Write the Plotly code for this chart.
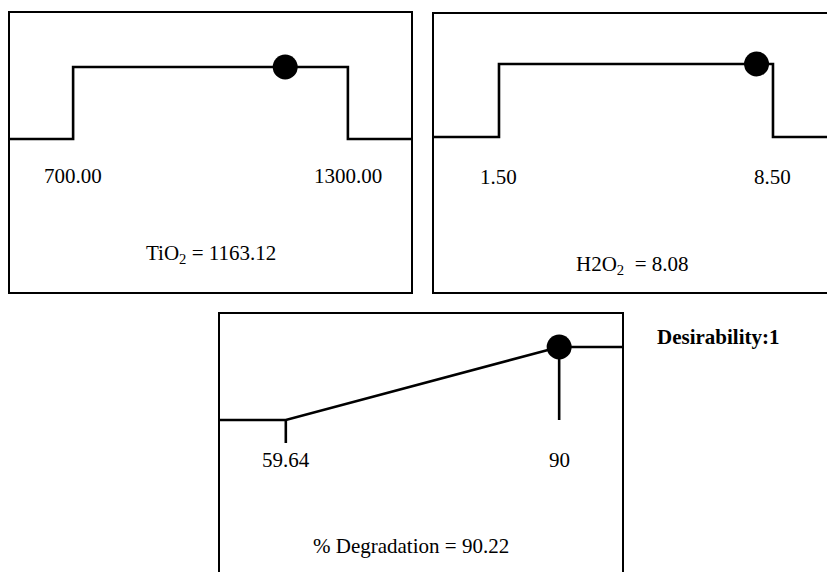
import plotly.graph_objects as go

# ---- data ----
tio2_limits = [700.00, 1300.00]
tio2_labels = ["700.00", "1300.00"]
tio2_opt = 1163.12

h2o2_limits = [1.50, 8.50]
h2o2_labels = ["1.50", "8.50"]
h2o2_opt = 8.08

deg_limits = [59.64, 90]
deg_labels = ["59.64", "90"]
deg_opt = 90.22

desirability = 1
d_low, d_high = 0, 1

W, H = 827, 572
FONT = dict(family="Liberation Serif, Times New Roman, serif", size=21, color="black")
LW = 2.6

def px(x):
    return x / W

def py(y):
    return 1 - y / H

fig = go.Figure()

# panel ranges (axis scale)
r1 = [560, 1440]
r2 = [-0.186, 9.88]
r3 = [52.22, 97.09]

# Panel 1 : TiO2
fig.add_trace(go.Scatter(
    x=[r1[0], tio2_limits[0], tio2_limits[0], tio2_limits[1], tio2_limits[1], r1[1]],
    y=[d_low, d_low, d_high, d_high, d_low, d_low],
    mode="lines", line=dict(color="black", width=LW), xaxis="x", yaxis="y",
    hoverinfo="skip", showlegend=False))
fig.add_trace(go.Scatter(x=[tio2_opt], y=[desirability], mode="markers",
    marker=dict(color="black", size=25), xaxis="x", yaxis="y", showlegend=False))

# Panel 2 : H2O2
fig.add_trace(go.Scatter(
    x=[r2[0], h2o2_limits[0], h2o2_limits[0], h2o2_limits[1], h2o2_limits[1], r2[1]],
    y=[d_low, d_low, d_high, d_high, d_low, d_low],
    mode="lines", line=dict(color="black", width=LW), xaxis="x2", yaxis="y2",
    hoverinfo="skip", showlegend=False))
fig.add_trace(go.Scatter(x=[h2o2_opt], y=[desirability], mode="markers",
    marker=dict(color="black", size=25), xaxis="x2", yaxis="y2", showlegend=False))

# Panel 3 : % Degradation
fig.add_trace(go.Scatter(
    x=[r3[0], deg_limits[0], deg_limits[1], r3[1]],
    y=[d_low, d_low, d_high, d_high],
    mode="lines", line=dict(color="black", width=LW), xaxis="x3", yaxis="y3",
    hoverinfo="skip", showlegend=False))
# tick marks at the limits
fig.add_trace(go.Scatter(
    x=[deg_limits[0], deg_limits[0], None, deg_limits[1], deg_limits[1]],
    y=[d_low, -0.315, None, d_high, d_low],
    mode="lines", line=dict(color="black", width=LW), xaxis="x3", yaxis="y3",
    hoverinfo="skip", showlegend=False))
fig.add_trace(go.Scatter(x=[deg_limits[1]], y=[desirability], mode="markers",
    marker=dict(color="black", size=25), xaxis="x3", yaxis="y3", showlegend=False))

ax = dict(showgrid=False, zeroline=False, showticklabels=False, ticks="", showline=False, fixedrange=True)

fig.update_layout(
    width=W, height=H, margin=dict(l=0, r=0, t=0, b=0),
    paper_bgcolor="white", plot_bgcolor="white", showlegend=False,
    xaxis=dict(ax, domain=[px(9), px(412)], range=r1, anchor="y"),
    yaxis=dict(ax, domain=[py(293), py(12)], range=[-2.139, 1.764], anchor="x"),
    xaxis2=dict(ax, domain=[px(433), 1], range=r2, anchor="y2"),
    yaxis2=dict(ax, domain=[py(293), py(13)], range=[-2.137, 1.699], anchor="x2"),
    xaxis3=dict(ax, domain=[px(219), px(623)], range=r3, anchor="y3"),
    yaxis3=dict(ax, domain=[0, py(313)], range=[-2.082, 1.466], anchor="x3"),
)

# borders
box = dict(type="rect", xref="paper", yref="paper", line=dict(color="black", width=2), layer="above")
fig.add_shape(box, x0=px(9), x1=px(412), y0=py(293), y1=py(12))
fig.add_shape(box, x0=px(433), x1=px(839), y0=py(293), y1=py(13))
fig.add_shape(box, x0=px(219), x1=px(623), y0=py(590), y1=py(313))

ann = []
for v, t in zip(tio2_limits, tio2_labels):
    ann.append(dict(x=v, y=-0.514, xref="x", yref="y", text=t))
ann.append(dict(x=1000, y=-1.6, xref="x", yref="y", text=f"TiO<sub>2</sub> = {tio2_opt:.2f}"))
for v, t in zip(h2o2_limits, h2o2_labels):
    ann.append(dict(x=v, y=-0.548, xref="x2", yref="y2", text=t))
ann.append(dict(x=4.92, y=-1.753, xref="x2", yref="y2", text=f"H2O<sub>2</sub>&nbsp; = {h2o2_opt:.2f}"))
for v, t in zip(deg_limits, deg_labels):
    ann.append(dict(x=v, y=-0.548, xref="x3", yref="y3", text=t))
ann.append(dict(x=73.5, y=-1.726, xref="x3", yref="y3", text=f"% Degradation = {deg_opt:.2f}"))
for a in ann:
    a.update(showarrow=False, font=FONT, xanchor="center", yanchor="middle")
ann.append(dict(x=px(655), y=py(337), xref="paper", yref="paper", showarrow=False,
                text=f"<b>Desirability:{desirability}</b>", font=FONT,
                xanchor="left", yanchor="middle"))
fig.update_layout(annotations=ann)

fig.write_html("out.html")
